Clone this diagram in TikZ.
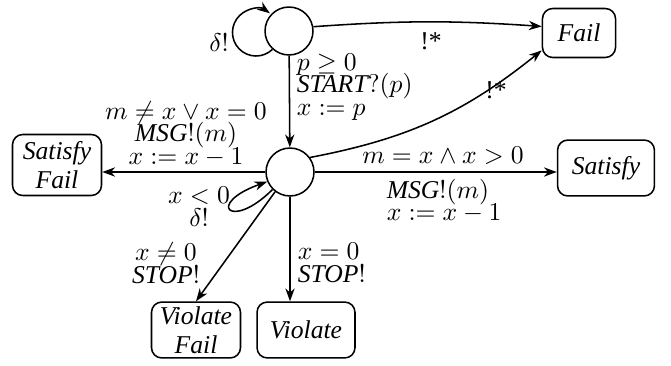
\documentclass[tikz,border=0pt]{standalone}
\usepackage{fontspec}
\setmainfont{Liberation Serif}
\usetikzlibrary{arrows.meta}

\begin{document}
\begin{tikzpicture}[
    x=0.39pt, y=0.39pt,
    line width=0.6pt,
    font=\fontsize{10}{9}\selectfont,
    state/.style={draw, circle, minimum size=18.7pt, inner sep=0pt},
    outcome/.style={draw, rounded corners=4pt, align=center, inner sep=1pt,
                font=\fontsize{10}{11.3}\selectfont\itshape, minimum height=21.8pt},
    lbl/.style={align=center, inner sep=0pt,
                font={\fontsize{10}{8.8}\selectfont\lineskiplimit=-10pt\lineskip=0pt}},
    arr/.style={-{Stealth[length=5pt,width=3.6pt,inset=1.6pt]}}
  ]
  \useasboundingbox (0,0) rectangle (671,365);
  \node[state] (init) at (289,334) {};
  \node[state] (mid) at (290,193) {};
  \node[outcome, minimum width=28.5pt, minimum height=19.1pt] (fail) at (579,332) {Fail};
  \node[outcome, minimum width=37.8pt] (sat) at (606,197) {Satisfy};
  \node[outcome, minimum width=34.7pt, minimum height=23.8pt] (satfail) at (57,200) {Satisfy\\Fail};
  \node[outcome, minimum width=34.7pt] (viofail) at (196,35) {Violate\\Fail};
  \node[outcome, minimum width=38.2pt] (vio) at (306,35) {Violate};
  \draw[arr] (init.-132) arc[start angle=-46, end angle=-306, radius=9.2pt];
  \draw[arr] (init.10) to[bend left=4] (fail.170);
  \draw[arr] (init) -- (mid);
  \draw[arr] (mid.36) to[bend right=14] (fail.205);
  \draw[arr] (mid) -- (mid -| sat.west);
  \draw[arr] (mid) -- (mid -| satfail.east);
  \draw[arr] (mid.-135) .. controls +(-42,-42) and +(-62,-22) .. (mid.-157);
  \draw[arr] (mid.-127) -- (viofail.north);
  \draw[arr] (mid) -- (mid |- vio.north);
  \node[lbl] (dl1) at (219,322) {$\delta!$};
  \node[lbl, anchor=west, align=left] (g1) at (296,278) {$p \geq 0$\\$\textit{START}?(p)$\\$x := p$};
  \node[lbl] (f1) at (431,324) {!*};
  \node[lbl] (f2) at (496,275) {!*};
  \node[lbl] (s1) at (443,209) {$m = x \wedge x > 0$};
  \node[lbl, anchor=north west, align=left] (s2) at (386,187) {$\textit{MSG}!(m)$\\$x := x-1$};
  \node[lbl] (sf1) at (186,231) {$m \neq x \vee x = 0$\\$\textit{MSG}!(m)$\\$x := x-1$};
  \node[lbl] (l1) at (199,158) {$x < 0$\\$\delta!$};
  \node[lbl] (v1) at (166,102) {$x \neq 0$\\$\textit{STOP}!$};
  \node[lbl, anchor=west, align=left] (v2) at (297,102) {$x = 0$\\$\textit{STOP}!$};
\end{tikzpicture}
\end{document}
